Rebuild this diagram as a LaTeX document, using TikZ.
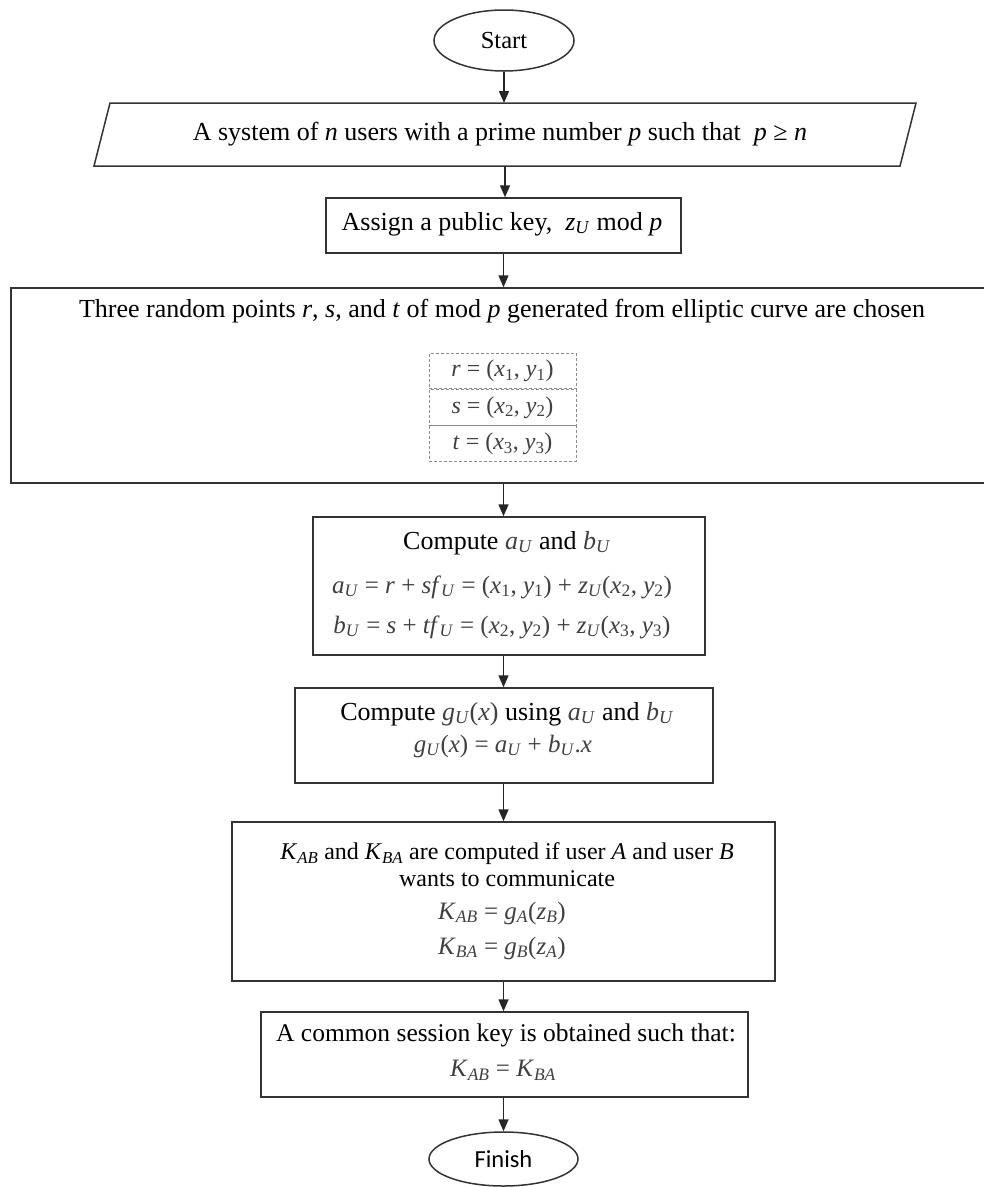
\documentclass[tikz,border=0pt]{standalone}
\usepackage{fontspec}
\setmainfont{Liberation Serif}
\newfontfamily\calfont{Carlito}
\usetikzlibrary{shapes.geometric,arrows.meta,calc}
\newcommand\vi[1]{\textit{#1}}
\newcommand\sbs[1]{\textsubscript{#1}}
\begin{document}
\begin{tikzpicture}[x=1pt,y=-1pt,
  box/.style={draw=black!80,line width=1.5pt,rectangle,inner sep=0},
  oval/.style={draw=black!80,line width=1.5pt,ellipse,inner sep=0},
  flowarrow/.style={draw=black!85,line width=1.5pt,-{Triangle[length=12pt,width=10pt]}},
  txt/.style={font=\fontsize{26}{30}\selectfont,inner sep=0},
  eq/.style={font=\fontsize{25}{29}\selectfont,text=black!75,inner sep=0},
  cell/.style={draw=black!45,densely dashed,line width=0.8pt,minimum width=147pt,minimum height=35.5pt,inner sep=0,font=\fontsize{24}{28}\selectfont,text=black!75}
]
\clip (0,0) rectangle (984,1187);
\fill[white] (0,0) rectangle (984,1187);

% Start
\node[oval,minimum width=140pt,minimum height=61pt,font=\fontsize{24.5}{28}\selectfont] (start) at (504,40.5) {Start};

% parallelogram
\coordinate (sysTL) at (110,103);
\coordinate (sysTR) at (916,103);
\coordinate (sysBR) at (900,166);
\coordinate (sysBL) at (94,166);
\coordinate (systop) at (505,103);
\coordinate (sysbot) at (505,166);
\draw[draw=black!80,line width=1.5pt] (sysTL) -- (sysTR) -- (sysBR) -- (sysBL) -- cycle;
\node[txt] (sys) at (500,134) {A system of \vi{n} users with a prime number \vi{p} such that\ \ \vi{p} ≥ \vi{n}};

% assign
\node[box,minimum width=355pt,minimum height=55pt] (assign) at (503.5,225.5) {};
\node[txt] (assigntxt) at (502,224) {Assign a public key,\ \ \vi{z}\sbs{\vi{U}} mod \vi{p}};

% big box
\node[box,minimum width=987pt,minimum height=195pt] (pts) at (504.5,385.5) {};
\node[txt] (ptstitle) at (502,311) {Three random points \vi{r}, \vi{s}, and \vi{t} of mod \vi{p} generated from elliptic curve are chosen};
\node[cell] (c1) at (502.5,371) {\vi{r} = (\vi{x}\sbs{1}, \vi{y}\sbs{1})};
\node[cell,anchor=north] (c2) at (c1.south) {\vi{s} = (\vi{x}\sbs{2}, \vi{y}\sbs{2})};
\node[cell,anchor=north] (c3) at (c2.south) {\vi{t} = (\vi{x}\sbs{3}, \vi{y}\sbs{3})};

% compute a,b
\node[box,minimum width=392pt,minimum height=138pt] (compa) at (509,586) {};
\node[txt] (compa1) at (507,543) {Compute \textcolor{black!75}{\vi{a}\sbs{\vi{U}}} and \textcolor{black!75}{\vi{b}\sbs{\vi{U}}}};
\node[eq] (compa2) at (502,587) {\vi{a}\sbs{\vi{U}} = \vi{r} + \vi{sf}\sbs{\vi{U}} = (\vi{x}\sbs{1}, \vi{y}\sbs{1}) + \vi{z}\sbs{\vi{U}}(\vi{x}\sbs{2}, \vi{y}\sbs{2})};
\node[eq] (compa3) at (502,627) {\vi{b}\sbs{\vi{U}} = \vi{s} + \vi{tf}\sbs{\vi{U}} = (\vi{x}\sbs{2}, \vi{y}\sbs{2}) + \vi{z}\sbs{\vi{U}}(\vi{x}\sbs{3}, \vi{y}\sbs{3})};

% compute g
\node[box,minimum width=418pt,minimum height=95pt] (gbox) at (504,735.5) {};
\node[txt] (g1) at (507,714) {Compute \textcolor{black!75}{\vi{g}\sbs{\vi{U}}(\vi{x})} using \textcolor{black!75}{\vi{a}\sbs{\vi{U}}} and \textcolor{black!75}{\vi{b}\sbs{\vi{U}}}};
\node[eq] (g2) at (503,746) {\vi{g}\sbs{\vi{U}}(\vi{x}) = \vi{a}\sbs{\vi{U}} + \vi{b}\sbs{\vi{U}}.\vi{x}};

% K box
\node[box,minimum width=543pt,minimum height=159pt] (kbox) at (503.5,901.5) {};
\node[inner sep=0,align=center,font=\fontsize{24}{27}\selectfont] (k1) at (507,865) {\vi{K}\sbs{\vi{AB}} and \vi{K}\sbs{\vi{BA}} are computed if user \vi{A} and user \vi{B}\\ wants to communicate};
\node[eq] (k2) at (502,913) {\vi{K}\sbs{\vi{AB}} = \vi{g}\sbs{\vi{A}}(\vi{z}\sbs{\vi{B}})};
\node[eq] (k3) at (502,948) {\vi{K}\sbs{\vi{BA}} = \vi{g}\sbs{\vi{B}}(\vi{z}\sbs{\vi{A}})};

% session
\node[box,minimum width=487pt,minimum height=85pt] (sess) at (504.5,1054.5) {};
\node[txt,font=\fontsize{25.5}{29}\selectfont] (s1) at (506,1035) {A common session key is obtained such that:};
\node[eq] (s2) at (503,1070) {\vi{K}\sbs{\vi{AB}} = \vi{K}\sbs{\vi{BA}}};

% finish
\node[oval,minimum width=149pt,minimum height=54pt,font=\calfont\fontsize{24.5}{28}\selectfont] (finish) at (503.5,1159) {Finish};

% arrows
\draw[flowarrow] (start.south) -- (start.south |- systop);
\draw[flowarrow] (sysbot) -- (sysbot |- assign.north);
\draw[flowarrow] (assign.south) -- (assign.south |- pts.north);
\draw[flowarrow] (assign.south |- pts.south) -- (assign.south |- compa.north);
\draw[flowarrow] (assign.south |- compa.south) -- (assign.south |- gbox.north);
\draw[flowarrow] (assign.south |- gbox.south) -- (assign.south |- kbox.north);
\draw[flowarrow] (assign.south |- kbox.south) -- (assign.south |- sess.north);
\draw[flowarrow] (assign.south |- sess.south) -- (assign.south |- finish.north);
\end{tikzpicture}
\end{document}
